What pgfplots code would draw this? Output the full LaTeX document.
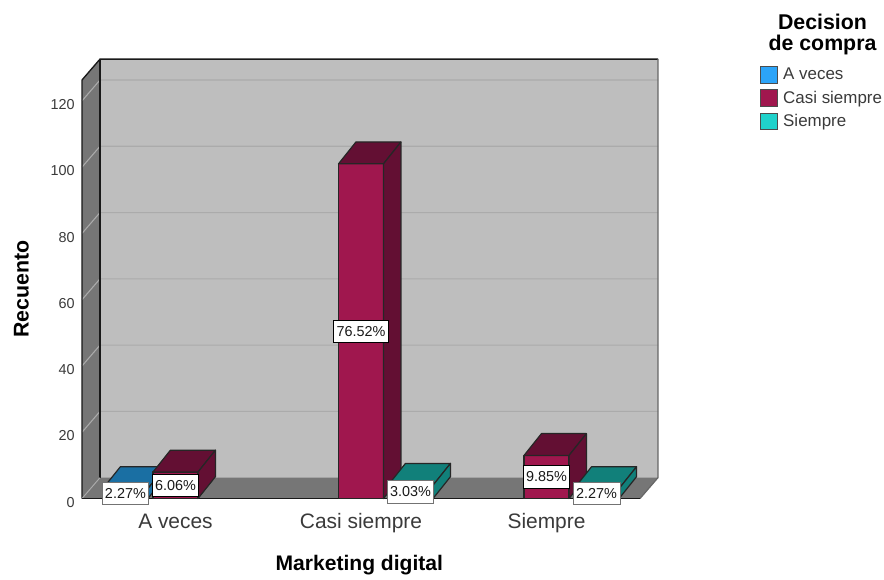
\documentclass[border=0pt]{standalone}
\usepackage{pgfplots}
\pgfplotsset{compat=1.18}
\usepackage{fontspec}
\setmainfont{Liberation Sans}
\definecolor{wall}{HTML}{BEBEBE}
\definecolor{sidewall}{HTML}{767676}
\definecolor{gridc}{HTML}{ABABAB}
\definecolor{labelc}{HTML}{3A3A3A}
\definecolor{bluefront}{HTML}{2CA4F8}
\definecolor{bluedark}{HTML}{1A6FA3}
\definecolor{maroonfront}{HTML}{A0174E}
\definecolor{maroondark}{HTML}{630F33}
\definecolor{tealfront}{HTML}{20D2CB}
\definecolor{tealdark}{HTML}{11807A}

% Depth of the extruded bars, in axis units
\def\bardx{0.094}
\def\bardy{6.6}
\def\barhalf{0.1213}

% #1 bar centre, #2 count, #3 front colour, #4 colour of top and side
\newcommand{\threedbar}[4]{%
  \pgfmathsetmacro{\xl}{#1-\barhalf}%
  \pgfmathsetmacro{\xr}{#1+\barhalf}%
  \pgfmathsetmacro{\xlb}{\xl+\bardx}%
  \pgfmathsetmacro{\xrb}{\xr+\bardx}%
  \pgfmathsetmacro{\ytop}{#2+\bardy}%
  \addplot[forget plot,fill=#3,draw=black!85,line width=0.9pt,line join=round] coordinates {(\xl,0) (\xr,0) (\xr,#2) (\xl,#2)} -- cycle;
  \addplot[forget plot,fill=#4,draw=black!85,line width=0.9pt,line join=round] coordinates {(\xl,#2) (\xr,#2) (\xrb,\ytop) (\xlb,\ytop)} -- cycle;
  \addplot[forget plot,fill=#4,draw=black!85,line width=0.9pt,line join=round] coordinates {(\xr,0) (\xrb,\bardy) (\xrb,\ytop) (\xr,#2)} -- cycle;
}
% [#1 border colour], #2 category position, #3 count, #4 text
\newcommand{\pctlabel}[4][black]{%
  \node[fill=white,draw=#1,line width=0.6pt,inner xsep=2.2pt,inner ysep=0pt,
        minimum height=16.8pt,font=\fontsize{10.8}{12}\selectfont,text=black!90]
    at (axis cs:#2,#3) {#4};
}

\begin{document}
\begin{tikzpicture}[x=0.75pt,y=0.75pt]
\path (0,0) rectangle (884,574);
\begin{axis}[
  at={(61.5pt,56.6pt)}, anchor=south west,
  scale only axis, width=418.5pt, height=313.9pt,
  xmin=-0.504, xmax=2.504, ymin=0, ymax=126.3,
  clip=false, no markers,
  axis line style={draw=none},
  tick style={draw=none},
  xtick={0,1,2},
  xticklabels={A veces,Casi siempre,Siempre},
  ytick={0,20,40,60,80,100,120},
  tick label style={text=labelc},
  xticklabel style={font=\fontsize{15.7}{17}\selectfont,yshift=-7.8pt},
  yticklabel style={font=\fontsize{10.8}{13}\selectfont,xshift=-2pt,yshift=-2.8pt},
  /pgf/number format/assume math mode=true,
  xlabel={\textbf{Marketing digital}},
  ylabel={\textbf{Recuento}},
  xlabel style={font=\fontsize{15.8}{18}\selectfont,at={(axis description cs:0.497,0)},anchor=center,yshift=-49.8pt},
  ylabel style={font=\fontsize{16}{18}\selectfont,at={(axis description cs:0,0.5)},anchor=center,yshift=45.5pt},
  legend style={at={(rel axis cs:1.2155,1.0335)},anchor=north west,draw=none,fill=none,
    inner sep=0pt,outer sep=0pt,row sep=4.3pt,
    font=\fontsize{12.7}{14}\selectfont,
    nodes={inner xsep=0.6pt,inner ysep=0.6pt,text=labelc}},
  legend cell align=left,
  legend image code/.code={
    \draw[#1,line width=0.8pt] (0pt,-6.2pt) rectangle (12.4pt,6.2pt);
    \path (16pt,0pt);
  },
]
% Chart frame: back wall, left wall and floor
\addplot[forget plot,fill=wall,draw=none] coordinates {(-0.407,6.3) (2.601,6.3) (2.601,132.6) (-0.407,132.6)} -- cycle;
\addplot[forget plot,fill=sidewall,draw=none] coordinates {(-0.504,0) (-0.407,6.3) (-0.407,132.6) (-0.504,126.3)} -- cycle;
\addplot[forget plot,fill=sidewall,draw=none] coordinates {(-0.504,0) (2.504,0) (2.601,6.3) (-0.407,6.3)} -- cycle;
% Gridlines running along the left wall and the back wall
\pgfplotsinvokeforeach{20,40,60,80,100,120}{
  \pgfmathsetmacro{\gy}{#1+6.3}
  \addplot[forget plot,gridc,line width=0.8pt] coordinates {(-0.504,#1) (-0.407,\gy) (2.601,\gy)};
}
% Frame edges
\addplot[forget plot,black!90,line width=1pt] coordinates {(-0.504,0) (-0.504,126.3) (-0.407,132.6) (2.601,132.6)};
\addplot[forget plot,black!90,line width=1pt] coordinates {(-0.407,6.3) (-0.407,132.6)};
\addplot[forget plot,black!60,line width=0.9pt] coordinates {(2.601,132.6) (2.601,6.3) (2.504,0)};
\addplot[forget plot,gridc,line width=0.7pt] coordinates {(-0.504,0) (-0.407,6.3)};
\addplot[forget plot,black!90,line width=1.1pt] coordinates {(-0.504,0) (2.504,0)};

% Clustered bars, left to right
\threedbar{-0.270}{3}{bluefront}{bluedark}
\threedbar{0}{8}{maroonfront}{maroondark}
\threedbar{1}{101}{maroonfront}{maroondark}
\threedbar{1.267}{4}{tealfront}{tealdark}
\threedbar{2}{13}{maroonfront}{maroondark}
\threedbar{2.27}{3}{tealfront}{tealdark}

% Share of the total, centred on each bar
\pctlabel[black!55]{-0.27}{1.5}{2.27\%}
\pctlabel{0}{4}{6.06\%}
\pctlabel{1}{50.5}{76.52\%}
\pctlabel[black!55]{1.267}{2}{3.03\%}
\pctlabel{2}{6.5}{9.85\%}
\pctlabel[black!55]{2.27}{1.5}{2.27\%}

\addlegendimage{fill=bluefront,draw=black!70}
\addlegendentry{A veces}
\addlegendimage{fill=maroonfront,draw=black!70}
\addlegendentry{Casi siempre}
\addlegendimage{fill=tealfront,draw=black!70}
\addlegendentry{Siempre}
\end{axis}
% Legend heading
\node[align=center,font=\fontsize{16}{15.8}\selectfont\bfseries,text=black] at (822.5,539.5) {Decision\\de compra};
\end{tikzpicture}
\end{document}
